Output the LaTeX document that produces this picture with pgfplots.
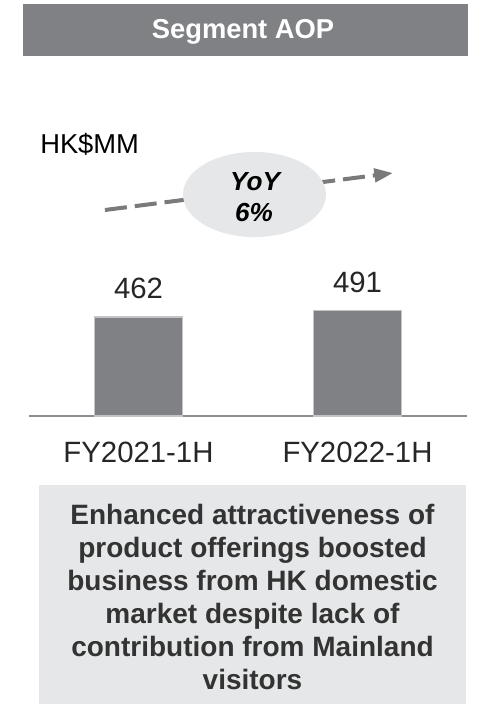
\documentclass[border=0pt]{standalone}
\usepackage{pgfplots}
\pgfplotsset{compat=1.18}
\usepackage{fontspec}
\setmainfont{Liberation Sans}
\usetikzlibrary{arrows.meta}
\definecolor{headgray}{HTML}{808184}
\definecolor{bargray}{HTML}{808185}
\definecolor{barborder}{HTML}{C4C4C6}
\definecolor{axisgray}{HTML}{8C8E94}
\definecolor{lightbox}{HTML}{E6E7E8}
\definecolor{arrowgray}{HTML}{7A7A7C}
\definecolor{txt}{HTML}{262626}
\definecolor{boxtxt}{HTML}{333333}
\begin{document}
\begin{tikzpicture}[x=0.75pt,y=-0.75pt]
\useasboundingbox[fill=white] (0,0) rectangle (482,705);
% header
\fill[headgray] (23,4) rectangle (468,56);
\node[text=white, font=\fontsize{20.5}{24}\selectfont\bfseries] at (243,32) {Segment AOP};
% unit
\node[anchor=west, inner sep=0pt, text=black, font=\fontsize{20.5}{24}\selectfont] at (40,144) {HK\$MM};
% dashed arrow
\draw[arrowgray, line width=3pt, dash pattern=on 16.5pt off 6pt, -{Triangle[length=14pt,width=10pt]}] (105,210) -- (393,173);
\fill[lightbox] (254.5,194.5) ellipse [x radius=53.6pt, y radius=31.9pt];
\node[text=black, font=\fontsize{19.6}{22}\selectfont\bfseries\itshape, align=center] at (255,182) {YoY};
\node[text=black, font=\fontsize{19.6}{22}\selectfont\bfseries\itshape, align=center] at (254,213) {6\%};
% chart
\begin{axis}[
  at={(21.75pt,-312pt)}, anchor=south west,
  scale only axis, width=328.5pt, height=225pt,
  xmin=-0.5, xmax=1.5, ymin=0, ymax=1400,
  axis x line=bottom, axis y line=none,
  x axis line style={-, draw=axisgray, line width=0.8pt},
  xtick=data, xticklabels={FY2021-1H,FY2022-1H},
  major tick length=0pt, ytick=\empty,
  xticklabel style={font=\fontsize{22}{24}\selectfont, text=txt, yshift=-16pt},
  /pgf/number format/assume math mode=true,
  ybar, bar width=0.4,
  nodes near coords,
  nodes near coords style={font=\fontsize{22}{24}\selectfont, text=txt, yshift=10pt},
  clip=false,
]
\addplot[fill=bargray, draw=barborder, line width=0.9pt] coordinates {(0,462) (1,491)};
\end{axis}
% bottom box
\fill[lightbox] (39,485) rectangle (466,704);
\node[text=boxtxt, align=center, font=\fontsize{21}{24.75}\selectfont\bfseries] at (252.5,597) {Enhanced attractiveness of\\product offerings boosted\\business from HK domestic\\market despite lack of\\contribution from Mainland\\visitors};
\end{tikzpicture}
\end{document}
